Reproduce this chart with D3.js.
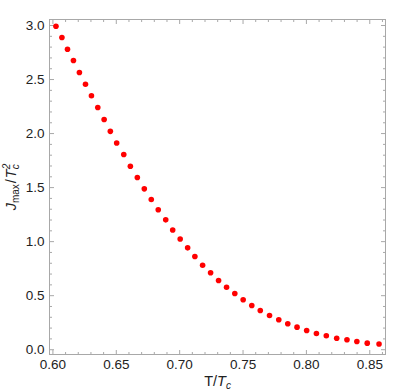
<!DOCTYPE html>
<html>
<head>
<meta charset="utf-8">
<script src="https://cdn.jsdelivr.net/npm/d3@7"></script>
<style>
  body { margin: 0; background: #fff; }
  #wrapper { width: 405px; height: 392px; }
</style>
</head>
<body>
<div id="wrapper"></div>
<script>
// T / Tc
const tRatio = [
  0.6028, 0.6075, 0.6119, 0.6166, 0.6213, 0.6261, 0.6308, 0.6358, 0.6408, 0.6457,
  0.6507, 0.6563, 0.6615, 0.6670, 0.6725, 0.6780, 0.6835, 0.6894, 0.6949, 0.7008,
  0.7067, 0.7124, 0.7185, 0.7248, 0.7311, 0.7374, 0.7439, 0.7505, 0.7573, 0.7640,
  0.7713, 0.7786, 0.7857, 0.7930, 0.8006, 0.8083, 0.8161, 0.8243, 0.8324, 0.8402,
  0.8484, 0.8577
]
// Jmax / Tc^2
const jMax = [
  2.989, 2.884, 2.776, 2.671, 2.560, 2.452, 2.345, 2.237, 2.125, 2.016,
  1.908, 1.802, 1.693, 1.589, 1.484, 1.385, 1.290, 1.197, 1.103, 1.020,
  0.938, 0.858, 0.777, 0.707, 0.636, 0.574, 0.515, 0.457, 0.404, 0.358,
  0.312, 0.272, 0.235, 0.204, 0.173, 0.145, 0.124, 0.102, 0.087, 0.071,
  0.056, 0.048
]
const xTicks = [0.60, 0.65, 0.70, 0.75, 0.80, 0.85]
const yTicks = [0.0, 0.5, 1.0, 1.5, 2.0, 2.5, 3.0]
const xMinorTicks = d3.range(0.60, 0.861, 0.01).map(d => +d.toFixed(2)).filter(d => !xTicks.includes(d))
const yMinorTicks = d3.range(0, 3.01, 0.1).map(d => +d.toFixed(1)).filter(d => !yTicks.includes(d))

const dataset = tRatio.map((t, i) => ({ t: t, j: jMax[i] }))

let dimensions = {
  width: 405,
  height: 392,
  margin: { top: 19.5, right: 19.5, bottom: 37.5, left: 49.5 },
}
dimensions.boundedWidth = dimensions.width - dimensions.margin.left - dimensions.margin.right
dimensions.boundedHeight = dimensions.height - dimensions.margin.top - dimensions.margin.bottom

const xAccessor = d => d.t
const yAccessor = d => d.j

const frameColor = '#a8a8a8'

const svg = d3.select('#wrapper')
  .append('svg')
  .attr('width', dimensions.width)
  .attr('height', dimensions.height)
  .style('font-family', '"Liberation Sans", Arial, sans-serif')

const bounds = svg.append('g')
  .attr('transform', `translate(${dimensions.margin.left}, ${dimensions.margin.top})`)

const xScale = d3.scaleLinear().domain([0.5977, 0.8628]).range([0, dimensions.boundedWidth])
const yScale = d3.scaleLinear().domain([-0.049, 3.051]).range([dimensions.boundedHeight, 0])

// frame ticks, all pointing inward
const addAxis = (gen, ticks, size, fmt, transform) => {
  const g = bounds.append('g')
    .attr('transform', transform)
    .call(gen.tickValues(ticks).tickSize(-size).tickPadding(5).tickFormat(fmt))
  g.select('.domain').remove()
  g.selectAll('line').attr('stroke', frameColor)
  g.selectAll('text').attr('fill', '#222').style('font-size', '13.5px')
  return g
}
const bottomT = `translate(0, ${dimensions.boundedHeight})`
const rightT = `translate(${dimensions.boundedWidth}, 0)`

addAxis(d3.axisBottom(xScale), xTicks, 4.5, d3.format('.2f'), bottomT)
addAxis(d3.axisBottom(xScale), xMinorTicks, 2.5, '', bottomT)
addAxis(d3.axisTop(xScale), xTicks, 4.5, '', null)
addAxis(d3.axisTop(xScale), xMinorTicks, 2.5, '', null)
addAxis(d3.axisLeft(yScale), yTicks, 4.5, d3.format('.1f'), null)
addAxis(d3.axisLeft(yScale), yMinorTicks, 2.5, '', null)
addAxis(d3.axisRight(yScale), yTicks, 4.5, '', rightT)
addAxis(d3.axisRight(yScale), yMinorTicks, 2.5, '', rightT)

bounds.append('rect')
  .attr('width', dimensions.boundedWidth)
  .attr('height', dimensions.boundedHeight)
  .attr('fill', 'none')
  .attr('stroke', frameColor)
  .attr('stroke-width', 1)

// points
bounds.append('g')
  .selectAll('circle')
  .data(dataset)
  .enter().append('circle')
  .attr('cx', d => xScale(xAccessor(d)))
  .attr('cy', d => yScale(yAccessor(d)))
  .attr('r', 2.8)
  .attr('fill', '#ff0000')

// axis labels
const xLabel = svg.append('text')
  .attr('x', dimensions.margin.left + dimensions.boundedWidth / 2)
  .attr('y', 386)
  .attr('text-anchor', 'middle')
  .attr('fill', '#222')
  .style('font-size', '14.5px')
xLabel.append('tspan').text('T/')
xLabel.append('tspan').style('font-style', 'italic').text('T')
xLabel.append('tspan').style('font-style', 'italic').style('font-size', '10px').attr('dy', 3).text('c')

const yLabel = svg.append('text')
  .attr('transform', `translate(16, ${dimensions.margin.top + dimensions.boundedHeight / 2}) rotate(-90)`)
  .attr('text-anchor', 'middle')
  .attr('fill', '#222')
  .style('font-size', '14.5px')
yLabel.append('tspan').style('font-style', 'italic').text('J')
yLabel.append('tspan').style('font-size', '10px').attr('dy', 3).text('max')
yLabel.append('tspan').attr('dx', 1).attr('dy', -3).text('/')
yLabel.append('tspan').attr('dx', 1).style('font-style', 'italic').text('T')
yLabel.append('tspan').style('font-style', 'italic').style('font-size', '10px').attr('dy', -6).text('2')
yLabel.append('tspan').style('font-style', 'italic').style('font-size', '10px').attr('dx', -5.5).attr('dy', 9).text('c')
</script>
</body>
</html>
